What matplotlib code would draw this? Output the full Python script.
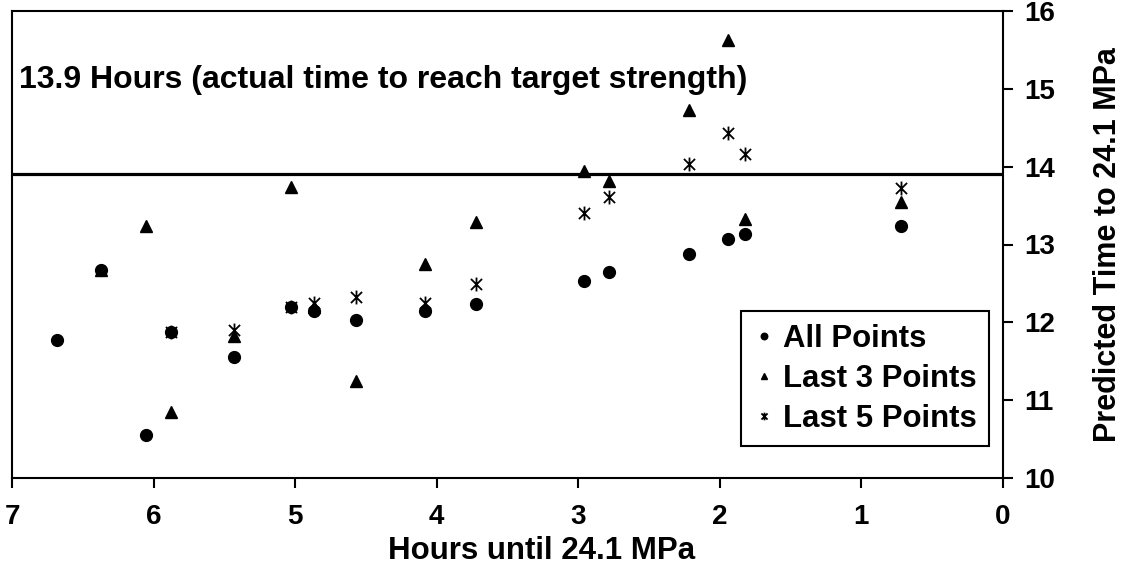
import numpy as np
import matplotlib
matplotlib.use('Agg')
import matplotlib.pyplot as plt
from matplotlib.path import Path

# 数据
hours_all = [6.68, 6.37, 6.05, 5.88, 5.43, 5.03, 4.87, 4.57, 4.08, 3.72, 2.96, 2.78, 2.22, 1.94, 1.82, 0.72]
pred_all = [11.77, 12.67, 10.55, 11.87, 11.56, 12.20, 12.14, 12.03, 12.15, 12.24, 12.53, 12.65, 12.88, 13.07, 13.13, 13.24]

hours_last3 = [6.37, 6.05, 5.88, 5.43, 5.03, 4.87, 4.57, 4.08, 3.72, 2.96, 2.78, 2.22, 1.94, 1.82, 0.72]
pred_last3 = [12.67, 13.24, 10.85, 11.82, 13.74, 12.20, 11.24, 12.75, 13.29, 13.94, 13.82, 14.73, 15.63, 13.33, 13.55]

hours_last5 = [5.88, 5.43, 5.03, 4.87, 4.57, 4.08, 3.72, 2.96, 2.78, 2.22, 1.94, 1.82, 0.72]
pred_last5 = [11.87, 11.90, 12.20, 12.25, 12.32, 12.25, 12.49, 13.41, 13.61, 14.03, 14.43, 14.16, 13.72]

actual_time = 13.9
x_ticks = [7, 6, 5, 4, 3, 2, 1, 0]
y_ticks = [10, 11, 12, 13, 14, 15, 16]

plt.rcParams['font.family'] = ['Liberation Sans', 'DejaVu Sans']
plt.rcParams['font.weight'] = 'bold'

# Excel 风格的星号: X 加竖线
star = Path([(-1, -1), (1, 1), (-1, 1), (1, -1), (0, -1.25), (0, 1.25)],
            [Path.MOVETO, Path.LINETO, Path.MOVETO, Path.LINETO, Path.MOVETO, Path.LINETO])

fig = plt.figure(figsize=(11.27, 5.86), dpi=100)
ax = fig.add_axes([12 / 1127, 1 - 478 / 586, 991 / 1127, 467 / 586])

ax.plot(hours_all, pred_all, linestyle='none', marker='o', markersize=8.5,
        color='black', label='All Points')
ax.plot(hours_last3, pred_last3, linestyle='none', marker='^', markersize=8.5,
        color='black', label='Last 3 Points')
ax.plot(hours_last5, pred_last5, linestyle='none', marker=star, markersize=10,
        markerfacecolor='none', markeredgecolor='black', markeredgewidth=1.3,
        color='black', label='Last 5 Points')

ax.axhline(actual_time, color='black', linewidth=2.3, zorder=1)
ax.text(0.007, 0.852, '13.9 Hours (actual time to reach target strength)',
        transform=ax.transAxes, ha='left', va='center', fontsize=23, fontweight='bold')

ax.set_xlim(7, 0)
ax.set_ylim(10, 16)
ax.set_xticks(x_ticks)
ax.set_yticks(y_ticks)
ax.yaxis.tick_right()
ax.yaxis.set_label_position('right')
ax.tick_params(axis='both', direction='out', length=7, width=1.5, labelsize=20)
ax.tick_params(axis='x', pad=12)
ax.tick_params(axis='y', pad=8)
for s in ax.spines.values():
    s.set_linewidth(1.5)

ax.set_xlabel('Hours until 24.1 MPa', fontsize=22.5, fontweight='bold')
ax.xaxis.set_label_coords(0.534, -0.124)
ax.set_ylabel('Predicted Time to 24.1 MPa', fontsize=22, fontweight='bold')
ax.yaxis.set_label_coords(1.091, 0.5)

leg = ax.legend(loc='lower right', bbox_to_anchor=(0.986, 0.068), fontsize=22.4,
                markerscale=0.55, handlelength=0.7, handletextpad=0.25,
                borderpad=0.4, labelspacing=0.32, borderaxespad=0,
                fancybox=False, framealpha=1, edgecolor='black')
leg.get_frame().set_linewidth(1.5)

plt.savefig('out.png', dpi=100)
